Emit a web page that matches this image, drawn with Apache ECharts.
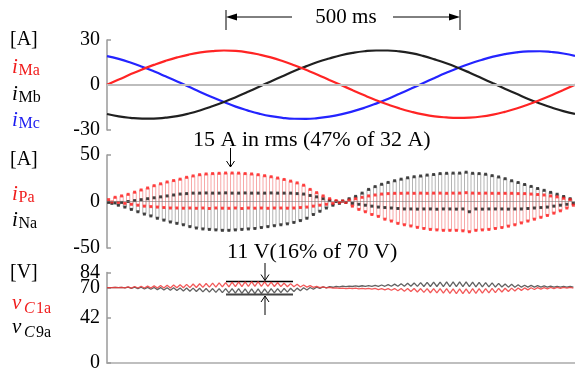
<!DOCTYPE html>
<html>
<head>
<meta charset="utf-8">
<script src="https://cdn.jsdelivr.net/npm/echarts@6/dist/echarts.min.js"></script>
<style>
  html, body { margin: 0; padding: 0; background: #fff; }
  #chart { width: 575px; height: 373px; }
</style>
</head>
<body>
<div id="chart"></div>
<script>
// ---- Top panel: machine phase currents [A], sampled every 25 ms over 0..1000 ms ----
const iMa = [0.2, 3.6, 7.1, 10.4, 13.4, 16.1, 18.4, 20.3, 21.7, 22.6, 23.0, 22.7, 21.8, 20.3, 18.4, 16.0, 13.2, 10.1, 6.9, 3.4, 0.0,
             -3.5, -6.9, -10.1, -13.0, -15.6, -17.8, -19.6, -20.9, -21.6, -21.9, -21.7, -21.0, -19.7, -17.9, -15.7, -13.0, -10.0, -6.8, -3.4, 0.1];
const iMb = [-19.3, -20.9, -21.9, -22.4, -22.4, -21.8, -20.7, -19.0, -16.8, -14.2, -11.3, -8.1, -4.7, -1.2, 2.4, 5.9, 9.3, 12.4, 15.3, 17.7, 19.8,
             21.4, 22.5, 23.0, 23.0, 22.4, 21.2, 19.4, 17.1, 14.5, 11.5, 8.2, 4.7, 1.1, -2.5, -5.9, -9.3, -12.3, -15.0, -17.4, -19.3];
const iMc = [19.3, 17.4, 15.0, 12.2, 9.1, 5.8, 2.4, -1.2, -4.8, -8.2, -11.4, -14.4, -16.9, -19.1, -20.8, -21.9, -22.5, -22.6, -22.1, -21.1, -19.6,
             -17.6, -15.2, -12.4, -9.3, -5.9, -2.4, 1.2, 4.7, 8.1, 11.3, 14.2, 16.7, 18.9, 20.6, 21.8, 22.4, 22.5, 22.0, 21.0, 19.4];

// ---- Middle panel: arm currents [A], upper and lower plateau of every switching cycle ----
const iPaHigh = [2, 4.5, 6, 7.7, 10, 12.4, 14.5, 17, 19, 21, 22.5, 24, 26, 27.5, 28.8, 29.6, 30, 30.3, 30.6, 30.6, 30.5, 30, 29.6, 28.8, 27.7, 26.6, 25.2, 23.7, 21.9, 20, 17.5, 13, 9.5, 6, 3, 1,
                 0.5, 1.5, 3, 4.5, 6, 7, 8, 8.5, 8.8, 8.8, 9, 8.8, 9, 8.8, 9, 9, 8.8, 9, 9, 9.5, 9, 8.8, 9, 8.8, 8.8, 8.8, 8.8, 8.5, 8.5, 8, 7.5, 7, 6, 5, 3.5, 2];
const iPaLow  = [-0.5, -1, -2, -3, -4, -5, -5.5, -6, -6.5, -7, -7, -7.2, -7, -7.3, -7, -7.5, -7, -7.2, -7.3, -7, -7.5, -7, -7.2, -7, -7.3, -7, -7, -7.2, -7, -6.5, -6, -5, -4, -3, -2, -1,
                 -1, -5, -8.5, -11, -14, -16, -19, -21, -23.5, -25, -26.3, -27.8, -29, -30, -30.5, -31, -31, -31, -31.5, -32.5, -31, -30.5, -30, -29, -28, -26.5, -25, -23, -21, -19, -17, -15, -12.5, -10, -7, -4];
const iNaHigh = [-1, -1.5, -1, 0, 1, 2, 3, 4, 5, 6, 7, 8, 8.5, 9, 9, 9.2, 9, 9, 9.3, 9, 9, 9.2, 9, 9, 9, 9.2, 9, 9, 9, 8.5, 8, 6.5, 5, 3, 1, 0,
                 0.5, 3, 5.5, 9, 13, 16, 18.5, 20.5, 22.3, 24, 25.5, 26.6, 27.4, 28.4, 29, 30, 30.3, 30.5, 30.5, 31.5, 30.3, 30, 29.3, 27.8, 26.4, 24.5, 22.3, 20.4, 18.3, 16.2, 14, 12, 9.8, 7.8, 5.4, 3];
const iNaLow  = [-2, -4, -6, -8.5, -11, -13.5, -15.5, -18, -20, -22, -23.5, -25, -27, -28.5, -29.5, -30, -30.5, -31, -31, -30.5, -30, -29.5, -29, -28, -27, -26, -25, -24, -22.5, -20.5, -18, -14, -10.5, -7, -4, -2,
                 -1, -2, -3, -4, -5, -6, -6.5, -7, -7.5, -8, -8, -8.2, -8, -8, -8.3, -8, -8, -8.2, -8, -11, -8, -8.2, -8, -8, -8, -8.2, -8, -8, -7.5, -7, -6.5, -6, -5, -4, -3, -2];

// ---- Bottom panel: submodule capacitor voltages [V], ripple peak and trough per cycle ----
const vC1aHigh = [70.0, 70.1, 70.2, 70.7, 71.0, 71.2, 71.4, 71.6, 71.9, 72.1, 72.4, 72.7, 73.0, 73.3, 73.6, 73.8, 74.1, 74.4, 74.7, 75.0, 75.3, 75.4, 75.5, 75.5, 75.3, 75.0, 74.7, 74.2, 73.7, 73.0, 72.4, 71.8, 71.2, 70.6, 70.1, 69.7,
                  69.5, 69.4, 69.4, 69.3, 69.3, 69.2, 69.1, 69.1, 69.1, 69.1, 69.1, 69.1, 69.1, 69.0, 69.0, 69.0, 69.0, 68.9, 68.9, 68.9, 69.0, 69.0, 69.1, 69.2, 69.3, 69.4, 69.5, 69.6, 69.7, 69.8, 69.9, 70.0, 70.1, 70.1, 70.1, 70.2];
const vC1aLow  = [70.0, 69.9, 69.8, 69.5, 69.6, 69.6, 69.6, 69.6, 69.7, 69.7, 69.8, 69.9, 70.0, 70.1, 70.2, 70.4, 70.5, 70.6, 70.7, 70.8, 70.9, 71.0, 71.1, 71.1, 71.1, 71.0, 70.9, 70.8, 70.7, 70.6, 70.4, 70.2, 70.0, 69.8, 69.5, 69.3,
                  69.1, 69.0, 68.8, 68.7, 68.5, 68.2, 67.9, 67.5, 67.1, 66.7, 66.3, 65.9, 65.5, 65.2, 65.0, 64.8, 64.6, 64.5, 64.5, 64.5, 64.6, 64.8, 65.1, 65.4, 65.9, 66.4, 66.9, 67.4, 67.9, 68.2, 68.5, 68.8, 69.1, 69.3, 69.5, 69.6];
const vC9aHigh = [70.0, 70.1, 70.2, 70.5, 70.4, 70.3, 70.2, 70.1, 70.0, 69.9, 69.8, 69.7, 69.6, 69.5, 69.4, 69.2, 69.1, 69.1, 69.0, 69.0, 69.0, 68.9, 68.9, 68.9, 68.9, 69.0, 69.1, 69.2, 69.4, 69.5, 69.8, 70.1, 70.4, 70.6, 70.9, 71.1,
                  71.3, 71.4, 71.6, 71.7, 71.9, 72.1, 72.4, 72.8, 73.2, 73.6, 74.0, 74.3, 74.6, 74.8, 75.0, 75.1, 75.2, 75.2, 75.2, 75.2, 75.1, 74.9, 74.6, 74.3, 73.9, 73.4, 73.0, 72.6, 72.2, 72.0, 71.8, 71.6, 71.4, 71.2, 71.1, 71.0];
const vC9aLow  = [70.0, 69.9, 69.8, 69.3, 69.0, 68.7, 68.4, 68.1, 67.8, 67.5, 67.2, 66.9, 66.6, 66.3, 66.0, 65.8, 65.5, 65.3, 65.0, 64.8, 64.6, 64.5, 64.5, 64.5, 64.7, 65.0, 65.3, 65.8, 66.4, 67.1, 67.8, 68.5, 69.2, 69.8, 70.3, 70.7,
                  70.9, 71.0, 71.0, 71.1, 71.1, 71.1, 71.2, 71.2, 71.2, 71.2, 71.2, 71.1, 71.0, 71.0, 71.0, 70.9, 70.8, 70.8, 70.8, 70.8, 70.7, 70.7, 70.6, 70.5, 70.5, 70.4, 70.4, 70.4, 70.4, 70.4, 70.4, 70.4, 70.4, 70.4, 70.5, 70.4];

// ---- Axis ticks ----
const topTicks = [-30, 0, 30];
const midTicks = [-50, 0, 50];
const vTicks = [0, 42, 70, 84];
const vNominal = [70];   // nominal capacitor voltage, labelled on its own axis layer

const SPAN_MS = 1000;
const tTop = iMa.map((_, i) => i * SPAN_MS / (iMa.length - 1));
const CYCLES = iPaHigh.length;
const T = SPAN_MS / CYCLES;

// square wave: one upper and one lower plateau per cycle
function plateaus(high, low) {
  const pts = [];
  for (let k = 0; k < high.length; k++) {
    pts.push([(k + 0.25) * T, high[k]]);
    pts.push([(k + 0.75) * T, low[k]]);
  }
  return pts;
}
function ripple(start, high, low) {
  return [[0, start]].concat(plateaus(high, low));
}
const pair = (ts, vs) => ts.map((t, i) => [t, vs[i]]);

const SERIF = "'Liberation Serif', 'DejaVu Serif', serif";
const yLabel = { fontFamily: SERIF, fontSize: 20, color: '#000', margin: 7,
                 hideOverlap: false, showMinLabel: true, showMaxLabel: true };
const yLine = { show: true, lineStyle: { color: '#9a9a9a', width: 1.5 } };
const yTick = { show: true, inside: true, length: 4, lineStyle: { color: '#9a9a9a', width: 1.5 } };

function zeroLine(xi, color, width) {
  return {
    type: 'line', xAxisIndex: xi, yAxisIndex: xi, data: [], z: 1, silent: true,
    markLine: { silent: true, symbol: 'none', label: { show: false },
      lineStyle: { color: color, width: width, type: 'solid' }, data: [{ yAxis: 0 }] }
  };
}
function wave(xi, data, color, width) {
  return { type: 'line', xAxisIndex: xi, yAxisIndex: xi, data: data, showSymbol: false,
    smooth: xi === 0, lineStyle: { color: color, width: width }, z: 3, silent: true };
}
function stepWave(xi, data, color) {
  return { type: 'line', xAxisIndex: xi, yAxisIndex: xi, data: data, step: 'middle', showSymbol: false,
    lineStyle: { color: color, width: 1 }, z: 2, silent: true };
}
function dots(xi, data, color) {
  return { type: 'scatter', xAxisIndex: xi, yAxisIndex: xi, data: data, symbol: 'rect',
    symbolSize: [3, 3], itemStyle: { color: color }, z: 4, silent: true };
}

// left-hand legends and annotations
function txt(x, y, s, font, fill, align) {
  return { type: 'text', x: x, y: y, silent: true,
    style: { text: s, font: font, fill: fill || '#000', textAlign: align || 'left', textVerticalAlign: 'middle' } };
}
function seg(x1, y1, x2, y2, w, c) {
  return { type: 'line', silent: true, shape: { x1, y1, x2, y2 }, style: { stroke: c || '#000', lineWidth: w || 1 } };
}
function tri(points) {
  return { type: 'polygon', silent: true, shape: { points }, style: { fill: '#000' } };
}
function chevron(points) {
  return { type: 'polyline', silent: true, shape: { points }, style: { stroke: '#000', lineWidth: 1, fill: null } };
}
const F = '20px ' + SERIF, FI = 'italic 21px ' + SERIF, FS = '16px ' + SERIF, FSI = 'italic 16px ' + SERIF;
const FN = '22px ' + SERIF;
const RED = '#f01c1c', BLUE = '#1c1cf0';

const graphics = [
  txt(10, 40, '[A]', F),
  txt(12, 67, 'i', FI, RED), txt(18.5, 71, 'Ma', FS, RED),
  txt(12, 94, 'i', FI), txt(18.5, 98, 'Mb', FS),
  txt(12, 120, 'i', FI, BLUE), txt(18.5, 124, 'Mc', FS, BLUE),

  txt(10, 160, '[A]', F),
  txt(12, 194, 'i', FI, RED), txt(18.5, 198, 'Pa', FS, RED),
  txt(12, 220, 'i', FI), txt(18.5, 224, 'Na', FS),

  txt(10, 273, '[V]', F),
  txt(12, 303, 'v', FI, RED), txt(24, 309, 'C', FSI, RED), txt(36, 309, '1a', FS, RED),
  txt(12, 327, 'v', FI), txt(24, 333, 'C', FSI), txt(36, 333, '9a', FS),

  // 500 ms bracket
  seg(226, 10, 226, 30, 1), seg(460, 10, 460, 30, 1),
  seg(232, 17, 292, 17, 1), tri([[226, 17], [237, 13.5], [237, 20.5]]),
  seg(393, 17, 454, 17, 1), tri([[460, 17], [449, 13.5], [449, 20.5]]),
  txt(346, 17, '500 ms', '21px ' + SERIF, '#000', 'center'),

  // arm current note
  txt(193, 140, '15 A in rms (47% of 32 A)', FN),
  seg(230.5, 148, 230.5, 167, 1), chevron([[226.5, 161], [230.5, 167], [234.5, 161]]),

  // capacitor ripple note
  txt(227, 252, '11 V(16% of 70 V)', FN),
  seg(226, 281.5, 293, 281.5, 1.5), seg(226, 294.5, 293, 294.5, 2, '#444'),
  seg(265, 263, 265, 280.5, 1), chevron([[261, 274.5], [265, 280.5], [269, 274.5]]),
  seg(265, 296, 265, 315, 1), chevron([[261, 302], [265, 296], [269, 302]])
];

const chart = echarts.init(document.getElementById('chart'), null, { renderer: 'canvas' });
chart.setOption({
  animation: false,
  backgroundColor: '#fff',
  grid: [
    { left: 107, right: 0, top: 40, height: 90 },
    { left: 107, right: 0, top: 155, height: 93 },
    { left: 107, right: 0, top: 272.5, height: 93 }
  ],
  xAxis: [
    { gridIndex: 0, type: 'value', min: 0, max: SPAN_MS, show: false },
    { gridIndex: 1, type: 'value', min: 0, max: SPAN_MS, show: false },
    { gridIndex: 2, type: 'value', min: 0, max: SPAN_MS, show: true,
      axisLine: { show: true, lineStyle: { color: '#aaa', width: 1.5 } },
      axisTick: { show: false }, axisLabel: { show: false }, splitLine: { show: false } }
  ],
  yAxis: [
    { gridIndex: 0, type: 'value', min: topTicks[0], max: topTicks[2], interval: 30,
      axisLine: yLine, axisTick: yTick, axisLabel: yLabel, splitLine: { show: false } },
    { gridIndex: 1, type: 'value', min: midTicks[0], max: midTicks[2], interval: 50,
      axisLine: yLine, axisTick: yTick, axisLabel: yLabel, splitLine: { show: false } },
    { gridIndex: 2, type: 'value', min: vTicks[0], max: vTicks[3],
      axisLine: yLine,
      axisTick: Object.assign({}, yTick, { customValues: vTicks }),
      axisLabel: Object.assign({}, yLabel, { customValues: vTicks.filter(v => v !== vNominal[0]) }),
      splitLine: { show: false } },
    { gridIndex: 2, type: 'value', min: vTicks[0], max: vTicks[3], position: 'left',
      axisLine: { show: false }, axisTick: { show: false },
      axisLabel: Object.assign({}, yLabel, { customValues: vNominal }),
      splitLine: { show: false } }
  ],
  series: [
    zeroLine(0, '#bdbdbd', 2),
    wave(0, pair(tTop, iMc), '#2424ff', 2.2),
    wave(0, pair(tTop, iMb), '#202020', 2.2),
    wave(0, pair(tTop, iMa), '#ff2424', 2.2),

    stepWave(1, plateaus(iNaHigh, iNaLow), '#b4b4b4'),
    stepWave(1, plateaus(iPaHigh, iPaLow), '#f7a8a8'),
    Object.assign(zeroLine(1, 'rgba(120,120,120,0.6)', 1), { z: 3 }),
    dots(1, plateaus(iNaHigh, iNaLow), '#1a1a1a'),
    dots(1, plateaus(iPaHigh, iPaLow), '#ff1a1a'),

    wave(2, ripple(70, vC9aHigh, vC9aLow), 'rgba(70,70,70,0.85)', 1.3),
    wave(2, ripple(70, vC1aHigh, vC1aLow), 'rgba(240,60,60,0.85)', 1.3)
  ],
  graphic: { elements: graphics }
});
</script>
</body>
</html>
